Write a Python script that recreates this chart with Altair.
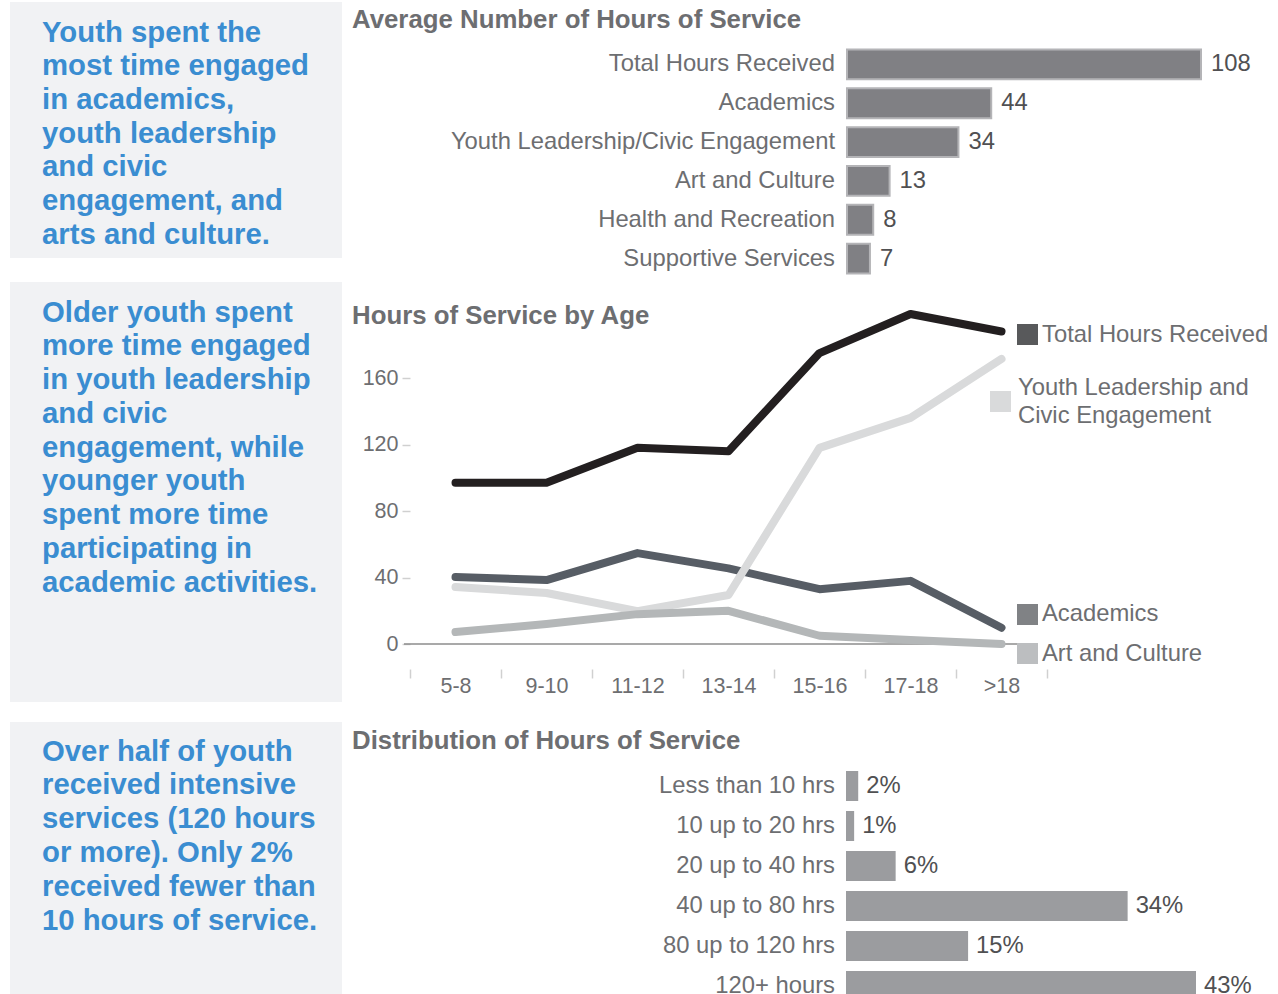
import altair as alt
import pandas as pd

# ---------------- data ----------------
box1_lines = ["Youth spent the", "most time engaged", "in academics,", "youth leadership",
              "and civic", "engagement, and", "arts and culture."]
box2_lines = ["Older youth spent", "more time engaged", "in youth leadership", "and civic",
              "engagement, while", "younger youth", "spent more time", "participating in",
              "academic activities."]
box3_lines = ["Over half of youth", "received intensive", "services (120 hours",
              "or more). Only 2%", "received fewer than", "10 hours of service."]

avg_categories = ["Total Hours Received", "Academics", "Youth Leadership/Civic Engagement",
                  "Art and Culture", "Health and Recreation", "Supportive Services"]
avg_hours = [108, 44, 34, 13, 8, 7]

ages = ["5-8", "9-10", "11-12", "13-14", "15-16", "17-18", ">18"]
total_by_age = [97, 97, 118, 116, 175, 198.5, 188]
academics_by_age = [40.3, 38.5, 54.7, 45.5, 33, 38, 9.8]
youth_lead_by_age = [34.3, 30.7, 19.8, 29.5, 118, 136, 171.5]
art_by_age = [7.2, 12, 18, 20, 5, 2.4, 0]

dist_categories = ["Less than 10 hrs", "10 up to 20 hrs", "20 up to 40 hrs",
                   "40 up to 80 hrs", "80 up to 120 hrs", "120+ hours"]
dist_values = [1.5, 1.0, 6.1, 34.6, 15.0, 43.0]
dist_labels = ["2%", "1%", "6%", "34%", "15%", "43%"]

# ---------------- styles ----------------
W, H = 1278, 994
FONT = "Liberation Sans"
BLUE = "#3a8dd1"
BOXC = "#f1f2f4"
LABEL = "#6d6e71"
VALUE = "#505052"
TITLE = "#6d6e71"
LFS = 23.8

dummy = pd.DataFrame({"a": [0]})


def box(x, x2, y, y2):
    return alt.Chart(dummy).mark_rect(color=BOXC).encode(
        x=alt.value(x), x2=alt.value(x2), y=alt.value(y), y2=alt.value(y2))


def block(lines, y, lh):
    return alt.Chart(dummy).mark_text(
        text=lines, align="left", baseline="alphabetic", font=FONT, fontSize=29.3,
        fontWeight="bold", color=BLUE, lineHeight=lh
    ).encode(x=alt.value(42), y=alt.value(y))


def title(txt, y):
    return alt.Chart(dummy).mark_text(
        text=txt, align="left", baseline="middle", font=FONT, fontSize=25.8,
        fontWeight="bold", color=TITLE
    ).encode(x=alt.value(352), y=alt.value(y))


layers = [
    box(10, 342, 2, 258), box(10, 342, 282, 702), box(10, 342, 722, 994),
    block(box1_lines, 41.5, 33.67), block(box2_lines, 321.5, 33.75), block(box3_lines, 760.5, 33.8),
    title("Average Number of Hours of Service", 20),
    title("Hours of Service by Age", 316),
    title("Distribution of Hours of Service", 741),
]

# ---------------- top bar chart ----------------
avg_df = pd.DataFrame({"category": avg_categories, "hours": avg_hours})
ax = alt.Scale(domain=[0, 108], range=[847, 1201], nice=False)
ay = alt.Scale(domain=avg_categories, range=[45, 278], paddingInner=0.23, paddingOuter=0.115)
abase = alt.Chart(avg_df)
a_bars = abase.mark_bar(color="#808084", stroke="#b4b4b7", strokeWidth=2).encode(
    x=alt.X("hours:Q", scale=ax, axis=None),
    y=alt.Y("category:N", scale=ay, axis=None, sort=avg_categories))
a_cat = abase.mark_text(align="right", baseline="middle", dx=-12, font=FONT,
                        fontSize=LFS, color=LABEL).encode(
    x=alt.datum(0), y=alt.Y("category:N", sort=avg_categories), text="category:N")
a_val = abase.mark_text(align="left", baseline="middle", dx=10, font=FONT,
                        fontSize=LFS, color=VALUE).encode(
    x="hours:Q", y=alt.Y("category:N", sort=avg_categories), text="hours:Q")
layers.append(alt.layer(a_bars, a_cat, a_val))

# ---------------- line chart ----------------
series_names = ["Academics", "Youth Leadership and Civic Engagement", "Art and Culture",
                "Total Hours Received"]
series_values = [academics_by_age, youth_lead_by_age, art_by_age, total_by_age]
series_colors = ["#575d65", "#d9dadb", "#b4b7b8", "#231f20"]

rows = []
for name, vals in zip(series_names, series_values):
    for a, v in zip(ages, vals):
        rows.append({"age": a, "series": name, "value": v})
line_df = pd.DataFrame(rows)

lx = alt.Scale(type="band", domain=ages, range=[410, 1047], paddingInner=0, paddingOuter=0)
ly = alt.Scale(domain=[-15, 200], range=[669, 311.5], nice=False, zero=False)
xax = alt.Axis(orient="bottom", offset=-325, tickBand="extent", tickSize=9,
               tickColor="#d0d0d0", tickWidth=1.5, domain=False, grid=False,
               labelFontSize=21.5, labelFont=FONT, labelColor=LABEL,
               labelPadding=-3, labelAngle=0, title=None)
yax = alt.Axis(orient="left", offset=-410, values=[0, 40, 80, 120, 160],
               tickSize=8, tickColor="#d0d0d0", tickWidth=1.5, domain=False,
               grid=False, labelFontSize=21.5, labelFont=FONT, labelColor=LABEL,
               labelPadding=4, title=None)

zero_rule = alt.Chart(dummy).mark_rule(color="#8c8c8c", strokeWidth=1.5).encode(
    x=alt.value(404), x2=alt.value(1035), y=alt.YDatum(0, scale=ly, axis=yax))

line_layers = [zero_rule]
for name, col in zip(series_names, series_colors):
    line_layers.append(
        alt.Chart(line_df).transform_filter(alt.datum.series == name)
        .mark_line(color=col, strokeWidth=8, strokeCap="round", strokeJoin="round")
        .encode(x=alt.X("age:O", scale=lx, sort=ages, axis=xax),
                y=alt.Y("value:Q", scale=ly, axis=yax))
    )
layers.append(alt.layer(*line_layers))


# legend (annotation)
def swatch(x, y, col):
    return alt.Chart(dummy).mark_square(size=441, color=col, opacity=1, filled=True).encode(
        x=alt.value(x), y=alt.value(y))


def ltext(txt, x, y):
    return alt.Chart(dummy).mark_text(text=txt, align="left", baseline="middle", font=FONT,
                                      fontSize=LFS, color=LABEL, lineHeight=28).encode(
        x=alt.value(x), y=alt.value(y))


layers += [
    swatch(1027.5, 334.5, "#58595b"), ltext("Total Hours Received", 1042, 335),
    swatch(1000.5, 401.5, "#d9dadb"), ltext(["Youth Leadership and", "Civic Engagement"], 1018, 388),
    swatch(1027.5, 614.5, "#808285"), ltext("Academics", 1042, 614),
    swatch(1027.5, 653.5, "#bcbec0"), ltext("Art and Culture", 1042, 654),
]

# ---------------- bottom bar chart ----------------
dist_df = pd.DataFrame({"category": dist_categories, "pct": dist_values, "label": dist_labels})
dx_ = alt.Scale(domain=[0, 43], range=[846, 1196], nice=False)
dy_ = alt.Scale(domain=dist_categories, range=[766, 1006], paddingInner=0.25, paddingOuter=0.125)
dbase = alt.Chart(dist_df)
d_bars = dbase.mark_bar(color="#9b9c9f").encode(
    x=alt.X("pct:Q", scale=dx_, axis=None),
    y=alt.Y("category:N", scale=dy_, axis=None, sort=dist_categories))
d_cat = dbase.mark_text(align="right", baseline="middle", dx=-11, font=FONT,
                        fontSize=LFS, color=LABEL).encode(
    x=alt.datum(0), y=alt.Y("category:N", sort=dist_categories), text="category:N")
d_val = dbase.mark_text(align="left", baseline="middle", dx=8, font=FONT,
                        fontSize=LFS, color=VALUE).encode(
    x="pct:Q", y=alt.Y("category:N", sort=dist_categories), text="label:N")
layers.append(alt.layer(d_bars, d_cat, d_val))

chart = (
    alt.layer(*layers)
    .resolve_scale(x="independent", y="independent")
    .properties(width=W, height=H, padding=0, background="white",
                autosize=alt.AutoSizeParams(type="none"))
    .configure_view(strokeWidth=0)
)

chart.save("out.html", embed_options={"renderer": "svg", "actions": False})
